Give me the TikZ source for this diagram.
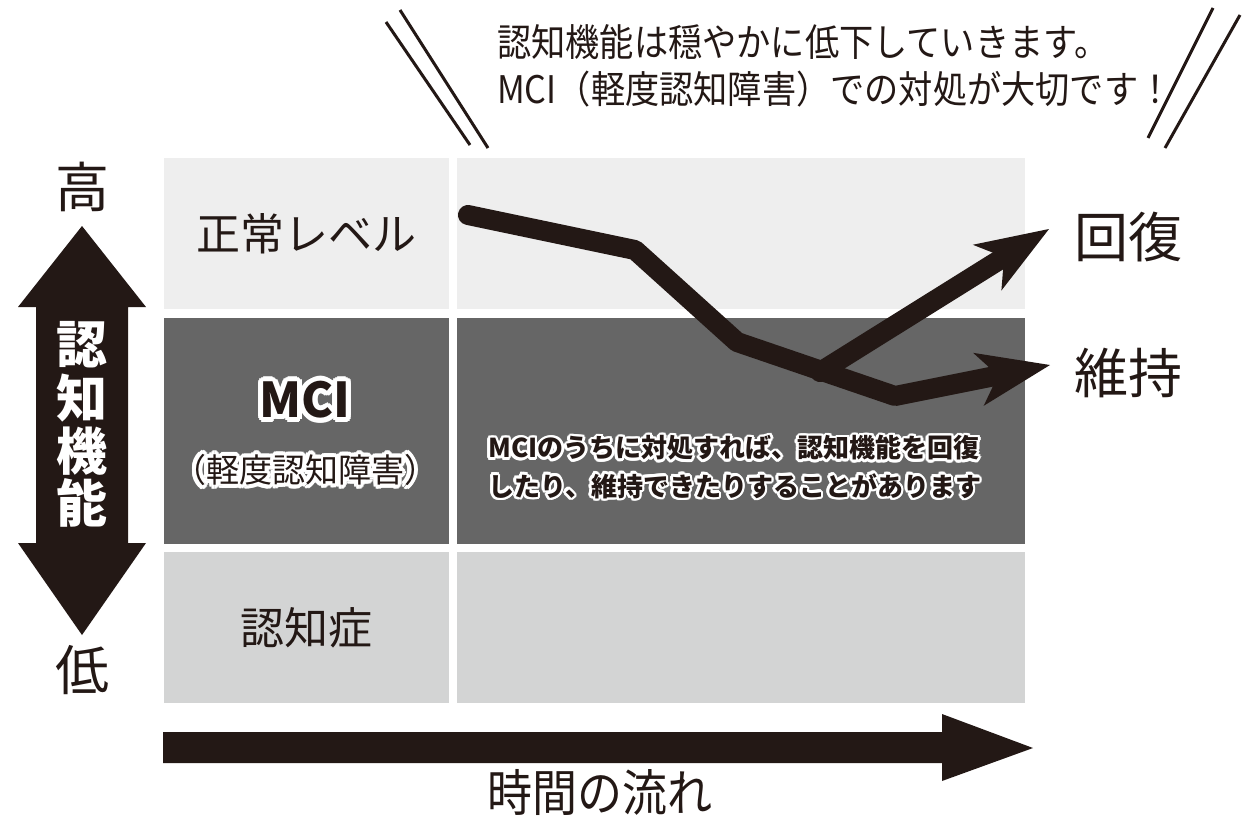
\documentclass[tikz,border=0pt]{standalone}
\usepackage{fontspec}
\newfontfamily\jp{Noto Sans CJK JP}
\newfontfamily\jpc[FakeStretch=0.9]{Noto Sans CJK JP}
\usetikzlibrary{arrows.meta,calc}
\definecolor{ink}{HTML}{231815}
\definecolor{cellA}{HTML}{EEEEEE}
\definecolor{cellB}{HTML}{666666}
\definecolor{cellC}{HTML}{D3D4D4}
\newcommand{\fsz}[1]{\fontsize{#1}{#1}\selectfont}
\newcommand{\halotext}[5]{%
  \foreach \ang in {0,24,...,336}{\node[#4,text=white] (#1-\ang) at ($(#2)+(\ang:#3)$) {#5};}%
  \node[#4,text=ink] (#1) at (#2) {#5};}
\tikzset{
  cellbox/.style={inner sep=0pt, outer sep=0pt, text=ink, font=\jp\fsz{44pt}},
  bigword/.style={inner sep=0pt, text=ink, font=\jp\fsz{54pt}},
  vword/.style={inner sep=0pt, text=white, font=\jp\bfseries\fsz{51pt}},
  caption/.style={inner sep=0pt, anchor=west, text=ink, font=\jpc\fsz{38pt}},
  note/.style={inner sep=0pt, anchor=west, font=\jp\bfseries\fsz{26pt}},
  mcistyle/.style={inner sep=0pt, font=\jp\bfseries\fsz{48pt}},
  subst/.style={inner sep=0pt, font=\jp\fsz{33pt}},
  trend/.style={draw=ink, line width=20pt, line join=round, line cap=round,
    -{Stealth[length=73pt, width=54pt, inset=20pt, line width=0pt]}},
  quoteline/.style={draw=ink, line width=3pt},
}
\begin{document}
\begin{tikzpicture}[x=1pt,y=-1pt]
\useasboundingbox (0,0) rectangle (1243,817);
\fill[white] (0,0) rectangle (1243,817);

% cells
\node[cellbox, fill=cellA, minimum width=285pt, minimum height=151pt] (L1) at (306.5,233.5) {正常レベル};
\node[cellbox, fill=cellB, minimum width=285pt, minimum height=226pt] (L2) at (306.5,431) {};
\node[cellbox, fill=cellC, minimum width=285pt, minimum height=151pt] (L3) at (306.5,627.5) {認知症};
\node[cellbox, fill=cellA, minimum width=568pt, minimum height=151pt] (R1) at (741,233.5) {};
\node[cellbox, fill=cellB, minimum width=568pt, minimum height=226pt] (R2) at (741,431) {};
\node[cellbox, fill=cellC, minimum width=568pt, minimum height=151pt] (R3) at (741,627.5) {};

% MCI labels with white halo
\coordinate (mcipos) at (305,400);
\coordinate (subpos) at (305,470);
\halotext{mci}{mcipos}{5}{mcistyle}{MCI}
\halotext{sub}{subpos}{4}{subst}{（軽度認知障害）}

% explanatory note
\coordinate (n1pos) at (488,448);
\coordinate (n2pos) at (488,486);
\halotext{note1}{n1pos}{2.6}{note}{MCIのうちに対処すれば、認知機能を回復}
\halotext{note2}{n2pos}{2.6}{note}{したり、維持できたりすることがあります}

% vertical double arrow
\fill[ink] (82,226) -- (146,307) -- (128,307) -- (128,543) -- (146,543) -- (82,635)
  -- (18,543) -- (36,543) -- (36,307) -- (18,307) -- cycle;
\node[vword] (v1) at (82,345) {認};
\node[vword] (v2) at (82,398) {知};
\node[vword] (v3) at (82,451) {機};
\node[vword] (v4) at (82,503) {能};
\node[bigword] (hi) at (82,187) {高};
\node[bigword] (lo) at (82,670) {低};

% time arrow
\fill[ink] (163,732) -- (942,732) -- (942,714) -- (1033,748) -- (942,781) -- (942,763) -- (163,763) -- cycle;
\node[inner sep=0pt, text=ink, font=\jpc\fsz{50pt}] (time) at (600,792) {時間の流れ};

% trend lines
\coordinate (g0) at (468,215);
\coordinate (g1) at (635,250);
\coordinate (g2) at (737,342);
\coordinate (g3) at (895,396);
\coordinate (gT) at (1050,365);
\coordinate (b0) at (820,372);
\coordinate (bT) at (1049,229);
\draw[trend] (g0) -- (g1) -- (g2) -- (g3) -- (gT);
\draw[trend] (b0) -- (bT);
\node[bigword] (rec) at (1128,237) {回復};
\node[bigword] (kee) at (1128,373) {維持};

% caption
\node[caption] (cap1) at (497,42) {認知機能は穏やかに低下していきます。};
\node[caption] (cap2) at (497,89) {MCI（軽度認知障害）での対処が大切です！};
\coordinate (qa1) at (386,22);  \coordinate (qa2) at (470,145);
\coordinate (qb1) at (400,10);  \coordinate (qb2) at (488,148);
\coordinate (qc1) at (1213,8);  \coordinate (qc2) at (1148,138);
\coordinate (qd1) at (1240,15); \coordinate (qd2) at (1165,148);
\draw[quoteline] (qa1) -- (qa2);
\draw[quoteline] (qb1) -- (qb2);
\draw[quoteline] (qc1) -- (qc2);
\draw[quoteline] (qd1) -- (qd2);
\end{tikzpicture}
\end{document}
